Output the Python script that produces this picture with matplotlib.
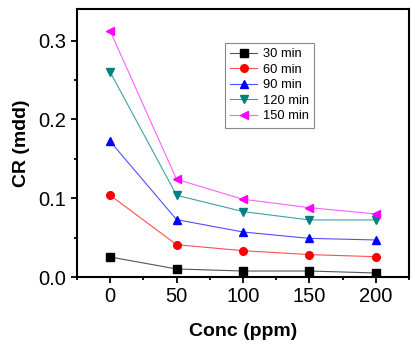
import matplotlib
matplotlib.use("Agg")
import matplotlib.pyplot as plt
from matplotlib.ticker import MultipleLocator

plt.rcParams['font.family'] = ['Liberation Sans', 'DejaVu Sans']

# Data
conc = [0, 50, 100, 150, 200]
cr_30 = [0.0254, 0.0102, 0.0076, 0.0076, 0.0051]
cr_60 = [0.1037, 0.041, 0.0334, 0.0284, 0.0258]
cr_90 = [0.172, 0.0728, 0.0571, 0.049, 0.047]
cr_120 = [0.26, 0.1037, 0.083, 0.0724, 0.0724]
cr_150 = [0.312, 0.124, 0.0986, 0.088, 0.080]
labels = ["30 min", "60 min", "90 min", "120 min", "150 min"]

series = [cr_30, cr_60, cr_90, cr_120, cr_150]
markers = ["s", "o", "^", "v", "<"]
colors = ["black", "red", "blue", "#008080", "magenta"]
line_colors = ["#555555", "#ff5050", "#5050ff", "#40a0a0", "#ff60ff"]

fig = plt.figure(figsize=(4.15, 3.46), dpi=100)
ax = fig.add_axes([0.1855, 0.1994, 0.80, 0.7746])

for y, m, c, lc, lab in zip(series, markers, colors, line_colors, labels):
    ax.plot(conc, y, color=lc, lw=0.8, marker=m, markersize=5.5,
            markerfacecolor=c, markeredgecolor=c, label=lab)

ax.set_xlim(-25, 225)
ax.set_ylim(0, 0.34)
ax.xaxis.set_major_locator(MultipleLocator(50))
ax.xaxis.set_minor_locator(MultipleLocator(25))
ax.yaxis.set_major_locator(MultipleLocator(0.1))
ax.yaxis.set_minor_locator(MultipleLocator(0.05))
ax.yaxis.set_major_formatter(matplotlib.ticker.FormatStrFormatter('%.1f'))

ax.tick_params(which='both', direction='out', width=1.3, labelsize=14.5)
ax.tick_params(which='major', length=4)
ax.tick_params(which='minor', length=2.5)
for s in ax.spines.values():
    s.set_linewidth(1.5)

ax.set_xlabel("Conc (ppm)", fontsize=14, fontweight='bold', labelpad=12)
ax.set_ylabel("CR (mdd)", fontsize=14, fontweight='bold', labelpad=6)

leg = ax.legend(loc='upper left', bbox_to_anchor=(0.446, 0.873), fontsize=9.3,
                fancybox=False, framealpha=1, edgecolor='#888888',
                handlelength=2.1, labelspacing=0.27, borderpad=0.4,
                handletextpad=0.4, borderaxespad=0)
leg.get_frame().set_linewidth(0.8)

fig.savefig("out.png", dpi=100)
